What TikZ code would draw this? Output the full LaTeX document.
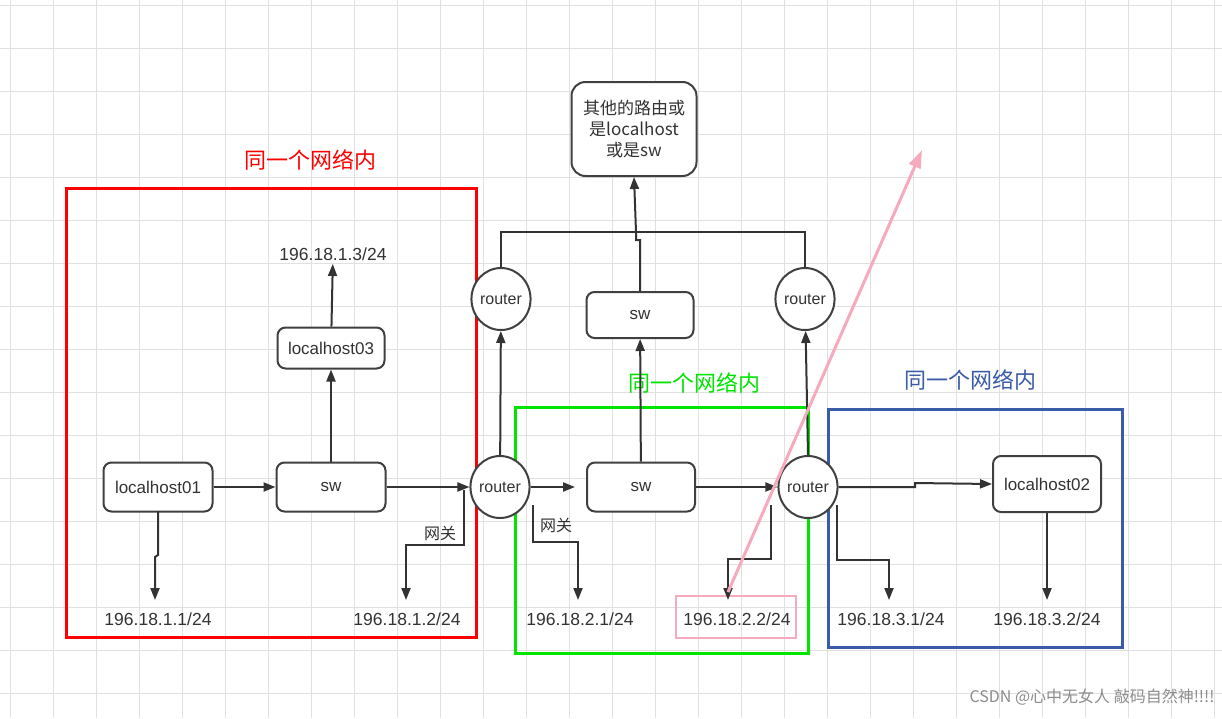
\documentclass[tikz,border=0pt]{standalone}
\usepackage{fontspec}
\setmainfont{Liberation Sans}
\newfontfamily\cjk{Noto Sans CJK SC}
\usetikzlibrary{arrows.meta,shapes.geometric}
\begin{document}
\begin{tikzpicture}[x=1pt,y=-1pt,
  box/.style={draw=black!75,line width=2pt,rounded corners=8pt,fill=white,font=\fontsize{17}{19}\selectfont,text=black!80},
  rt/.style={draw=black!75,line width=2pt,ellipse,minimum width=58pt,minimum height=62pt,inner sep=0pt,fill=white,font=\fontsize{16}{18}\selectfont,text=black!80},
  ip/.style={font=\fontsize{17.5}{19}\selectfont,text=black!80},
  ln/.style={draw=black!80,line width=2pt},
  ar/.style={ln,-{Triangle[length=12pt,width=9pt]}},
  grp/.style={line width=3pt},
  lab/.style={font=\cjk\fontsize{22}{24}\selectfont}]
\useasboundingbox (0,0) rectangle (1222,718);
\fill[white] (0,0) rectangle (1222,718);
\foreach \i in {0,...,28} {\draw[black!12,line width=1pt] (10+43*\i,0) -- (10+43*\i,718);}
\foreach \j in {0,...,16} {\draw[black!12,line width=1pt] (0,5+43*\j) -- (1222,5+43*\j);}
% groups
\draw[red,grp] (66,188) rectangle (476,637);
\draw[green!90!black,grp] (515,407) rectangle (808,653);
\draw[grp,color={rgb,255:red,58;green,91;blue,168}] (828,409) rectangle (1122,647);
\node[lab,text=red] (g1) at (310,160) {同一个网络内};
\node[lab,text=green!90!black] (g2) at (694,383) {同一个网络内};
\node[lab,text={rgb,255:red,58;green,91;blue,168}] (g3) at (970,380) {同一个网络内};
% nodes
\node[box,rounded corners=14pt,minimum width=125pt,minimum height=94pt,align=center,font=\cjk\fontsize{17}{21}\selectfont] (other) at (634,129) {其他的路由或\\是localhost\\或是sw};
\node[box,minimum width=107pt,minimum height=41pt] (lh3) at (331,348) {localhost03};
\node[box,minimum width=109pt,minimum height=49pt] (lh1) at (158,487) {localhost01};
\node[box,minimum width=109pt,minimum height=49pt] (sw1) at (331,487) {sw};
\node[rt] (r1) at (500,487) {router};
\node[rt] (rtl) at (501,299) {router};
\node[box,minimum width=107pt,minimum height=46pt] (swt) at (640,315) {sw};
\node[rt] (rtr) at (805,299) {router};
\node[box,minimum width=108pt,minimum height=49pt] (sw2) at (641,487) {sw};
\node[rt] (r2) at (808,487) {router};
\node[box,minimum width=108pt,minimum height=56pt] (lh2) at (1047,484) {localhost02};
% ip labels
\node[ip] (ip3) at (333,254) {196.18.1.3/24};
\node[ip] (a1) at (158,619) {196.18.1.1/24};
\node[ip] (a2) at (407,619) {196.18.1.2/24};
\node[ip] (b1) at (580,619) {196.18.2.1/24};
\node[ip] (b2) at (737,619) {196.18.2.2/24};
\node[ip] (c1) at (891,619) {196.18.3.1/24};
\node[ip] (c2) at (1047,619) {196.18.3.2/24};
\draw[draw={rgb,255:red,245;green,170;blue,190},line width=2.5pt] (676,596) rectangle (796,638);
% connectors
\coordinate (p1) at (406,600);
\coordinate (p2) at (578,600);
\coordinate (p3) at (728,600);
\coordinate (p4) at (889,600);
\coordinate (p5) at (155,600);
\draw[ar] (lh1) -- (sw1);
\draw[ar] (sw1) -- (r1);
\draw[ar] (r1) -- (575,487);
\draw[ar] (sw2) -- (r2);
\draw[ar] (r2.east) -- (915,487) -- (915,483) -- (lh2.west);
\draw[ar] (sw1) -- (lh3);
\draw[ar] (lh3) -- (ip3);
\draw[ar] (r1) -- (rtl);
\draw[ar] (sw2) -- (swt);
\draw[ar] (r2.north) -- (rtr);
\draw[ln] (rtl.north) -- (501,232) -- (805,232) -- (rtr.north);
\draw[ar] (swt.north) -- (640,240) -- (636,240) -- (636,232) -- (other.south);
\draw[ar] (158,511) -- (158,555) -- (155,557) -- (p5);
\draw[ar] (464,490) -- (464,545) -- (406,545) -- (p1);
\node[font=\cjk\fontsize{16}{18}\selectfont,text=black!80] (gw1) at (440,533) {网关};
\draw[ar] (533,505) -- (533,542) -- (578,542) -- (p2);
\node[font=\cjk\fontsize{16}{18}\selectfont,text=black!80] (gw2) at (556,525) {网关};
\draw[ar] (771,505) -- (771,559) -- (728,559) -- (p3);
\draw[ar] (837,505) -- (837,560) -- (889,560) -- (p4);
\draw[ar] (lh2) -- (1047,600);
% pink arrow
\coordinate (pk1) at (728,592);
\coordinate (pk2) at (922,150);
\draw[draw={rgb,255:red,245;green,170;blue,190},line width=3pt,-{Triangle[length=18pt,width=12pt]}] (pk1) -- (pk2);
\node[font=\cjk\fontsize{16}{18}\selectfont,text=black!45,anchor=east] (wm) at (1218,697) {CSDN @心中无女人 敲码自然神!!!!};
\end{tikzpicture}
\end{document}
